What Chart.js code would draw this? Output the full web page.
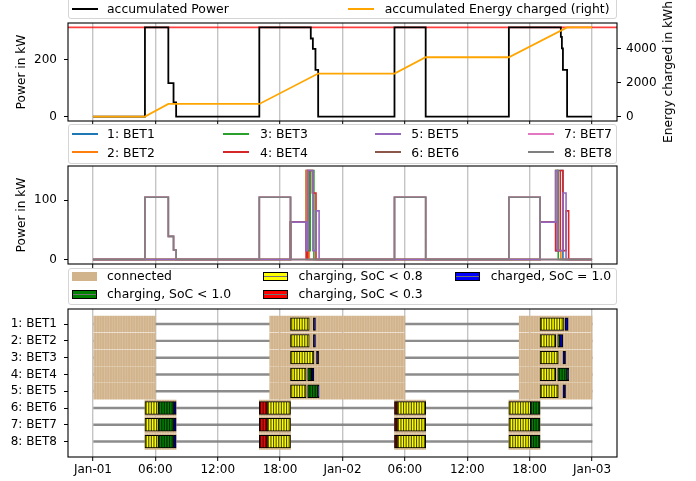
<!DOCTYPE html>
<html>
<head>
<meta charset="utf-8">
<script src="https://cdn.jsdelivr.net/npm/chart.js@4.4.1/dist/chart.umd.min.js"></script>
<style>
  body { margin: 0; background: #fff; }
  #page { position: relative; width: 696px; height: 481px; overflow: hidden; font-family: 'DejaVu Sans', sans-serif; }
  canvas { position: absolute; left: 0; }
  .box { position: absolute; left: 68px; width: 549px; box-sizing: border-box; border: 1px solid #d5d5d5; border-radius: 3px; background: rgba(255,255,255,0.8); z-index: 4; }
  .txt { position: absolute; font-size: 12.4px; line-height: 14px; white-space: nowrap; color: #000; z-index: 5; }
  .ln { position: absolute; height: 2px; z-index: 5; }
  .patch { position: absolute; box-sizing: border-box; z-index: 5; }
  #ylab2 { position: absolute; left: 668px; top: 72px; transform: translate(-50%, -50%) rotate(-90deg); font-size: 12.2px; white-space: nowrap; }
</style>
</head>
<body>
<div id="page">
  <canvas id="cPower" width="696" height="126" style="top:0"></canvas>
  <canvas id="cBet" width="696" height="110" style="top:160px"></canvas>
  <canvas id="cGantt" width="696" height="181" style="top:300px"></canvas>
  <div class="box" style="top:-8px;height:27px"></div>
  <div class="box" style="top:124px;height:40px"></div>
  <div class="box" style="top:268px;height:37px"></div>
  <div id="ylab2">Energy charged in kWh</div>
</div>
<script>
// hours since Jan-01 00:00
const X_MIN = -2.4, X_MAX = 50.4;
const tickHours = [0, 6, 12, 18, 24, 30, 36, 42, 48];
const tickLabels = ['Jan-01', '06:00', '12:00', '18:00', 'Jan-02', '06:00', '12:00', '18:00', 'Jan-03'];

// top panel
const powerT = [0, 5, 7.25, 7.75, 8, 16, 20.95, 21.15, 21.4, 21.66, 29, 32, 40, 45, 45.1, 45.2, 45.6, 48];
const powerKW = [0, 315, 118, 50, 0, 315, 276, 239, 165, 0, 315, 0, 315, 282, 241, 165, 0, 0];
const energyT = [0, 5, 7.25, 16, 21.66, 29, 32, 40, 45.6, 48];
const energyKWh = [0, 0, 740, 740, 2525, 2525, 3480, 3480, 5230, 5230];
const gridLimitKW = 315;

// middle panel, power per vehicle (value holds until next time)
const betNames = ['1: BET1', '2: BET2', '3: BET3', '4: BET4', '5: BET5', '6: BET6', '7: BET7', '8: BET8'];
const bet1T = [0, 19, 20.5, 20.8, 43, 44.5, 44.7, 45.2, 48];
const bet1KW = [0, 63, 150, 0, 63, 15, 150, 0, 0];
const bet2T = [0, 19, 20.5, 20.65, 20.8, 43, 44.5, 44.7, 45.0, 48];
const bet2KW = [0, 63, 150, 15, 0, 63, 150, 15, 0, 0];
const bet3T = [0, 19, 20.5, 20.9, 21.25, 43, 44.5, 44.75, 48];
const bet3KW = [0, 63, 15, 150, 0, 63, 150, 0, 0];
const bet4T = [0, 19, 20.5, 20.65, 21.1, 21.45, 43, 44.5, 44.95, 45.2, 45.5, 45.75, 48];
const bet4KW = [0, 63, 0, 150, 112, 0, 63, 15, 150, 15, 82, 0, 0];
const bet5T = [0, 19, 20.5, 20.65, 21.15, 21.45, 21.75, 43, 44.5, 44.7, 45.2, 45.5, 48];
const bet5KW = [0, 63, 15, 150, 15, 82, 0, 63, 150, 15, 112, 0, 0];
const depotT = [0, 5, 7.25, 7.75, 8, 16, 19, 29, 32, 40, 43, 48];
const depotKW = [0, 105, 39, 16, 0, 105, 0, 105, 0, 105, 0, 0];
const betT = [bet1T, bet2T, bet3T, bet4T, bet5T, depotT, depotT, depotT];
const betKW = [bet1KW, bet2KW, bet3KW, bet4KW, bet5KW, depotKW, depotKW, depotKW];

// bottom panel
const simSpan = [0, 48];
const lineConnected = [[0, 6], [17, 30], [41, 48]];
const depotConnected = [[5, 8], [16, 19], [29, 32], [40, 43]];
const connected = [lineConnected, lineConnected, lineConnected, lineConnected, lineConnected,
                   depotConnected, depotConnected, depotConnected];
// [start, end, state]
const depotCharging = [[5, 6.3, 'lt08'], [6.3, 7.75, 'lt10'], [7.75, 8, 'full'],
  [16, 16.75, 'lt03'], [16.75, 19, 'lt08'], [29, 29.25, 'lt03'], [29.25, 32, 'lt08'],
  [40, 42.1, 'lt08'], [42.1, 43, 'lt10']];
const charging = [
  [[19, 20.8, 'lt08'], [21.2, 21.4, 'full'], [43, 45.3, 'lt08'], [45.4, 45.7, 'full']],
  [[19, 20.8, 'lt08'], [21.2, 21.4, 'full'], [43, 44.5, 'lt08'], [44.7, 44.9, 'lt10'], [44.9, 45.2, 'full']],
  [[19, 21.25, 'lt08'], [21.5, 21.7, 'full'], [43, 44.75, 'lt08'], [45.2, 45.45, 'full']],
  [[19, 20.5, 'lt08'], [20.65, 21.0, 'lt10'], [21.0, 21.25, 'full'], [43, 44.5, 'lt08'], [44.7, 45.6, 'lt10'], [45.6, 45.75, 'full']],
  [[19, 20.5, 'lt08'], [20.65, 21.6, 'lt10'], [21.6, 21.75, 'full'], [43, 44.75, 'lt08'], [45.2, 45.45, 'full']],
  depotCharging, depotCharging, depotCharging
];
const stateKeys = ['lt08', 'full', 'lt10', 'lt03'];
const stateLabels = {lt08: 'charging, SoC < 0.8', full: 'charged, SoC = 1.0', lt10: 'charging, SoC < 1.0', lt03: 'charging, SoC < 0.3'};

// styles
const betColors = ['#1f77b4', '#ff7f0e', '#2ca02c', '#d62728', '#9467bd', '#8c564b', '#e377c2', '#7f7f7f'];
const stateColors = {lt08: '#ffff00', full: '#0000ff', lt10: '#008000', lt03: '#ff0000'};
const TAN = '#d2b48c';

Chart.defaults.font.family = "'DejaVu Sans', sans-serif";
Chart.defaults.font.size = 12;
Chart.defaults.color = '#000';
Chart.defaults.animation = false;
Chart.defaults.events = [];
Chart.defaults.plugins.legend.display = false;
Chart.defaults.plugins.tooltip.enabled = false;

const pts = (t, v) => t.map((x, i) => ({x: x, y: v[i]}));

function stripes(fill, stripe, w) {
  const c = document.createElement('canvas');
  c.width = 13; c.height = 8;
  const g = c.getContext('2d');
  g.fillStyle = fill; g.fillRect(0, 0, 13, 8);
  g.fillStyle = stripe;
  for (let k = 0; k < 5; k++) g.fillRect(k * 2.6, 0, w, 8);
  return g.createPattern(c, 'repeat');
}

const frame = {
  id: 'frame',
  afterDraw(chart) {
    const a = chart.chartArea, g = chart.ctx;
    g.save();
    g.strokeStyle = '#000';
    g.lineWidth = 1.1;
    g.strokeRect(a.left, a.top, a.right - a.left, a.bottom - a.top);
    g.restore();
  }
};

function xAxis(height, showLabels, z) {
  return {
    type: 'linear', min: X_MIN, max: X_MAX, z: z,
    afterBuildTicks: s => { s.ticks = tickHours.map(v => ({value: v})); },
    afterFit: s => { s.height = height; s.paddingLeft = 0; s.paddingRight = 0; },
    ticks: { display: showLabels, autoSkip: false, maxRotation: 0, padding: 2, callback: (v, i) => tickLabels[i] },
    grid: { color: 'rgba(176,176,176,0.75)', lineWidth: 1.4, tickColor: '#000', tickLength: 4, tickWidth: 1 },
    border: { display: false }
  };
}

function yAxis(pos, min, max, tickVals, width, title) {
  return {
    type: 'linear', position: pos, min: min, max: max,
    afterBuildTicks: s => { s.ticks = tickVals.map(v => ({value: v})); },
    afterFit: s => { s.width = width; s.paddingTop = 0; s.paddingBottom = 0; },
    ticks: { padding: pos === 'left' ? 7 : 5, callback: v => String(v) },
    grid: { drawOnChartArea: false, tickColor: '#000', tickLength: 4, tickWidth: 1 },
    border: { display: false },
    title: title ? { display: true, text: title, font: {size: 12.2}, padding: {top: 14.7, bottom: 0} } : { display: false }
  };
}

// top: accumulated power / energy
new Chart(document.getElementById('cPower'), {
  type: 'line',
  data: {
    datasets: [
      { data: pts([X_MIN, X_MAX], [gridLimitKW, gridLimitKW]), borderColor: 'rgba(255,0,0,0.75)', borderWidth: 1.8, pointRadius: 0, yAxisID: 'y', order: 3 },
      { data: pts(powerT, powerKW), borderColor: '#000', borderWidth: 1.8, stepped: true, pointRadius: 0, yAxisID: 'y', order: 2 },
      { data: pts(energyT, energyKWh), borderColor: '#ffa500', borderWidth: 1.8, pointRadius: 0, yAxisID: 'y2', order: 1 }
    ]
  },
  options: {
    responsive: false, devicePixelRatio: 1,
    layout: { autoPadding: false, padding: {top: 23, left: 0, right: 0, bottom: 0} },
    scales: {
      x: xAxis(5, false, 0),
      y: yAxis('left', -15.75, 330.75, [0, 200], 68, 'Power in kW'),
      y2: yAxis('right', -261.5, 5491.5, [0, 2000, 4000], 79, null)
    }
  },
  plugins: [frame]
});

// middle: power per vehicle
new Chart(document.getElementById('cBet'), {
  type: 'line',
  data: {
    datasets: betNames.map((name, i) => ({
      label: name, data: pts(betT[i], betKW[i]), borderColor: betColors[i], borderWidth: 1.6,
      stepped: true, pointRadius: 0, order: 8 - i
    }))
  },
  options: {
    responsive: false, devicePixelRatio: 1,
    layout: { autoPadding: false, padding: {top: 6, left: 0, right: 79, bottom: 0} },
    scales: {
      x: xAxis(6, false, 0),
      y: yAxis('left', -7.5, 157.5, [0, 100], 68, 'Power in kW')
    }
  },
  plugins: [frame]
});

// bottom: connection / charging states
const tanFill = stripes(TAN, 'rgba(255,255,255,0.2)', 0.8);
const ganttSets = [];
ganttSets.push({
  data: betNames.map((n, i) => ({x: simSpan, y: i})),
  backgroundColor: 'rgba(128,128,128,0.9)', barThickness: 1.8, borderWidth: 0, order: 3
});
ganttSets.push({
  data: connected.flatMap((iv, i) => iv.map(s => ({x: s, y: i}))),
  backgroundColor: tanFill, barThickness: 15.8, borderWidth: 0, order: 2
});
stateKeys.forEach(k => {
  ganttSets.push({
    label: stateLabels[k],
    data: charging.flatMap((segs, i) => segs.filter(s => s[2] === k).map(s => ({x: [s[0], s[1]], y: i}))),
    backgroundColor: stripes(stateColors[k], 'rgba(0,0,0,0.7)', 1.1),
    borderColor: '#000', borderWidth: 1, barThickness: 12.7, order: 1
  });
});

new Chart(document.getElementById('cGantt'), {
  type: 'bar',
  data: { datasets: ganttSets.map(d => Object.assign({grouped: false, borderSkipped: false}, d)) },
  options: {
    indexAxis: 'y',
    responsive: false, devicePixelRatio: 1,
    layout: { autoPadding: false, padding: {top: 9, left: 0, right: 79, bottom: 0} },
    scales: {
      x: xAxis(24, true, 1),
      y: {
        type: 'linear', reverse: true, min: -0.9, max: 7.92, offset: false,
        afterBuildTicks: s => { s.ticks = betNames.map((n, i) => ({value: i})); },
        afterFit: s => { s.width = 68; s.paddingTop = 0; s.paddingBottom = 0; },
        ticks: { padding: 7, callback: v => betNames[v] },
        grid: { drawOnChartArea: false, offset: false, tickColor: '#000', tickLength: 4, tickWidth: 1 },
        border: { display: false }
      }
    }
  },
  plugins: [frame]
});

// legends
const page = document.getElementById('page');
function addText(x, yc, s) {
  const d = document.createElement('div');
  d.className = 'txt'; d.textContent = s;
  d.style.left = x + 'px'; d.style.top = (yc - 6.8) + 'px';
  page.appendChild(d);
}
function addLine(x, yc, color) {
  const d = document.createElement('div');
  d.className = 'ln'; d.style.left = x + 'px'; d.style.width = '26px';
  d.style.top = (yc - 1) + 'px'; d.style.background = color;
  page.appendChild(d);
}
function addPatch(x, yc, color, edged) {
  const d = document.createElement('div');
  d.className = 'patch'; d.style.left = x + 'px'; d.style.width = '25px';
  d.style.top = (yc - 4.5) + 'px'; d.style.height = '9px';
  if (edged) {
    d.style.border = '1px solid #000';
    d.style.background = 'linear-gradient(to bottom,' + color + ' 38%, rgba(0,0,0,0.55) 38%, rgba(0,0,0,0.55) 62%,' + color + ' 62%)';
  } else {
    d.style.background = color;
  }
  page.appendChild(d);
}

addLine(72, 9, '#000'); addText(107, 9, 'accumulated Power');
addLine(348, 9, '#ffa500'); addText(384.7, 9, 'accumulated Energy charged (right)');

const legLineX = [72, 223, 374.7, 528];
const legTextX = [107, 260, 411.3, 564];
const legRowY = [134, 152.3];
betNames.forEach((n, i) => {
  const col = Math.floor(i / 2), row = i % 2;
  addLine(legLineX[col], legRowY[row], betColors[i]);
  addText(legTextX[col], legRowY[row], n);
});

const ganttRowY = [276, 294];
addPatch(72, ganttRowY[0], TAN, false); addText(107, ganttRowY[0], 'connected');
addPatch(263.3, ganttRowY[0], stateColors.lt08, true); addText(298.5, ganttRowY[0], stateLabels.lt08);
addPatch(454.7, ganttRowY[0], stateColors.full, true); addText(490.7, ganttRowY[0], stateLabels.full);
addPatch(72, ganttRowY[1], stateColors.lt10, true); addText(107, ganttRowY[1], stateLabels.lt10);
addPatch(263.3, ganttRowY[1], stateColors.lt03, true); addText(298.5, ganttRowY[1], stateLabels.lt03);
</script>
</body>
</html>
